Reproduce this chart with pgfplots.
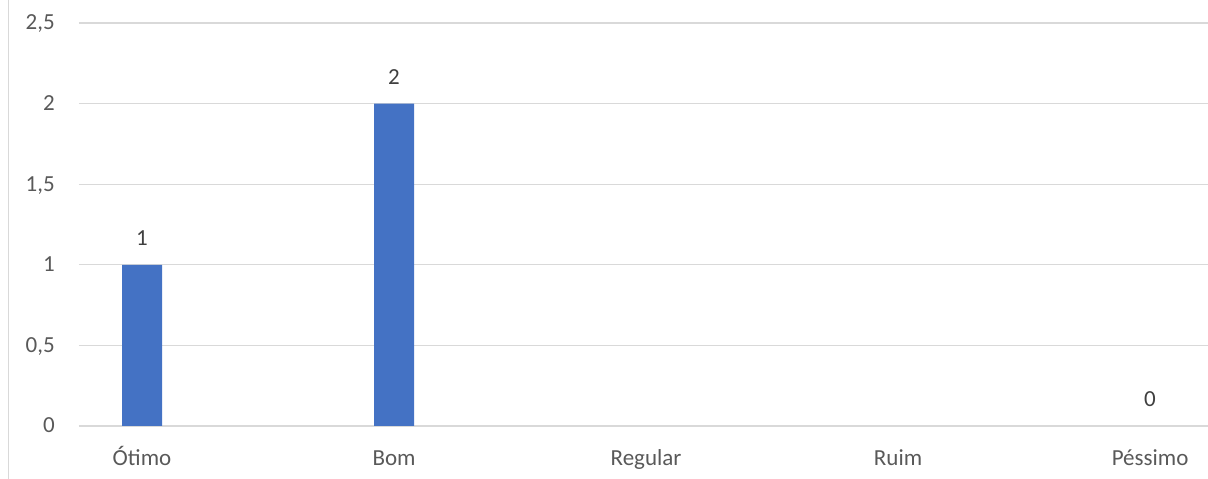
\documentclass[border=0pt]{standalone}
\usepackage{pgfplots}
\pgfplotsset{compat=1.18}
\usepackage{fontspec}
\setmainfont{Carlito}
\definecolor{barblue}{HTML}{4472C4}
\definecolor{gridgray}{HTML}{D9D9D9}
\definecolor{ticktext}{HTML}{595959}
\definecolor{labeltext}{HTML}{404040}
\begin{document}
\begin{tikzpicture}
\useasboundingbox (-79pt,-53pt) rectangle (1129pt,426pt);
\draw[gridgray, line width=1.2pt] (-70.5pt,-53pt) -- (-70.5pt,426pt);
\begin{axis}[
  scale only axis, width=1129pt, height=403pt,
  ybar, bar width=40pt, bar shift=0pt,
  xmin=-0.25, xmax=4.23,
  ymin=0, ymax=2.5,
  xtick={0,1,2,3,4},
  xticklabels={Ótimo,Bom,Regular,Ruim,Péssimo},
  ytick={0,0.5,1,1.5,2,2.5},
  ymajorgrids, grid style={gridgray, line width=1.2pt},
  axis line style={draw=none},
  major tick length=0pt,
  /pgf/number format/use comma,
  /pgf/number format/assume math mode=true,
  tick label style={font=\fontsize{23}{27}\selectfont, text=ticktext, inner sep=0pt},
  xticklabel style={anchor=base, yshift=-39pt},
  yticklabel style={anchor=base east, xshift=-24pt, yshift=-7pt},
  nodes near coords,
  every node near coord/.append style={font=\fontsize{23}{27}\selectfont, text=labeltext, anchor=base, yshift=19pt, inner sep=0pt},
]
\addplot[fill=barblue, draw=none] coordinates {(0,1) (1,2)};
\addplot[fill=none, draw=none] coordinates {(4,0)};
\end{axis}
\end{tikzpicture}
\end{document}
